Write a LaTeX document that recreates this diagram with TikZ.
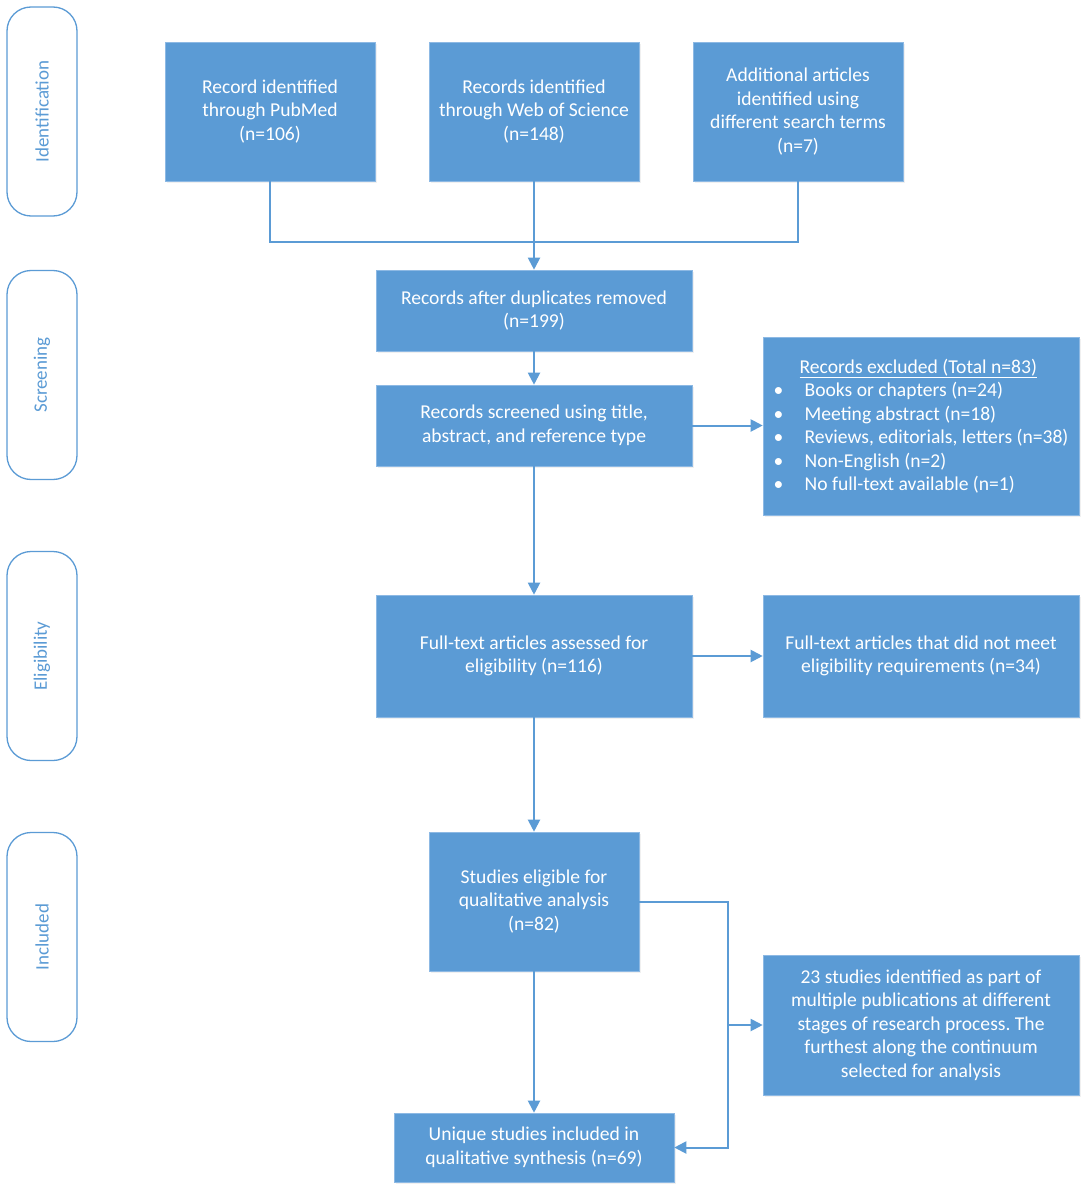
\documentclass[tikz,border=0pt]{standalone}
\usepackage{fontspec}
\setmainfont{Carlito}
\usepackage{tikz}
\usetikzlibrary{arrows.meta, positioning, calc, shadows}
\definecolor{boxblue}{HTML}{5B9BD5}
\definecolor{edgeblue}{HTML}{8DB9E4}
\frenchspacing

\tikzset{
    stagebox/.style={draw=boxblue, line width=1.3pt, fill=white, rounded corners=24pt,
        minimum width=70pt, minimum height=209pt},
    stagetext/.style={text=boxblue, font=\fontsize{19}{22}\selectfont, rotate=90},
    flowbox/.style={draw=edgeblue, line width=0.6pt, fill=boxblue, text=white,
        align=center, inner sep=0pt, font=\fontsize{19.6}{23.5}\selectfont,
        drop shadow={shadow xshift=1.5pt, shadow yshift=-2pt, opacity=0.12}},
    flowline/.style={draw=boxblue, line width=2pt},
    flowarrow/.style={flowline, -{Triangle[length=12pt, width=12pt]}}
}

\begin{document}
\begin{tikzpicture}[x=1pt, y=-1pt]
    \useasboundingbox (0, 0) rectangle (1091, 1198);
    % Stages
    \node[stagebox] (idbox) at (42, 111.5) {};
    \node[stagetext] (idlabel) at (idbox) {Identification};
    \node[stagebox] (scbox) at (42, 375) {};
    \node[stagetext] (sclabel) at (scbox) {Screening};
    \node[stagebox] (elbox) at (42, 656) {};
    \node[stagetext] (ellabel) at (elbox) {Eligibility};
    \node[stagebox] (inbox) at (42, 937) {};
    \node[stagetext] (inlabel) at (inbox) {Included};
    % Identification
    \node[flowbox, minimum width=210pt, minimum height=139pt] (pubmed) at (270, 111.5)
        {Record identified\\through PubMed\\(n=106)};
    \node[flowbox, minimum width=210pt, minimum height=139pt] (wos) at (534, 111.5)
        {Records identified\\through Web of Science\\(n=148)};
    \node[flowbox, minimum width=210pt, minimum height=139pt] (addl) at (798, 111.5)
        {Additional articles\\identified using\\different search terms\\(n=7)};
    % Screening
    \node[flowbox, minimum width=316pt, minimum height=81pt] (dupl) at (534, 310.5)
        {Records after duplicates removed\\(n=199)};
    \node[flowbox, minimum width=316pt, minimum height=81pt] (screen) at (534, 425.5)
        {Records screened using title,\\abstract, and reference type};
    \node[flowbox, minimum width=316pt, minimum height=178pt, align=left] (excl) at (921, 426)
        {\hspace*{26pt}\underline{Records excluded (Total n=83)}\\
         \makebox[31pt][l]{\textbullet}Books or chapters (n=24)\\
         \makebox[31pt][l]{\textbullet}Meeting abstract (n=18)\\
         \makebox[31pt][l]{\textbullet}Reviews, editorials, letters (n=38)\\
         \makebox[31pt][l]{\textbullet}Non-English (n=2)\\
         \makebox[31pt][l]{\textbullet}No full-text available (n=1)};
    % Eligibility
    \node[flowbox, minimum width=316pt, minimum height=122pt] (fulltext) at (534, 656)
        {Full-text articles assessed for\\eligibility (n=116)};
    \node[flowbox, minimum width=316pt, minimum height=122pt] (notmeet) at (921, 656)
        {Full-text articles that did not meet\\eligibility requirements (n=34)};
    % Included
    \node[flowbox, minimum width=210pt, minimum height=139pt] (eligible) at (534, 901.5)
        {Studies eligible for\\qualitative analysis\\(n=82)};
    \node[flowbox, minimum width=316pt, minimum height=140pt] (multi) at (921, 1025)
        {23 studies identified as part of\\multiple publications at different\\stages of research process. The\\furthest along the continuum\\selected for analysis};
    \node[flowbox, minimum width=280pt, minimum height=69pt] (unique) at (534, 1147.5)
        {Unique studies included in\\qualitative synthesis (n=69)};
    % Connectors
    \coordinate (merge) at (534, 242);
    \draw[flowline] (pubmed.south) |- (merge) -| (addl.south);
    \draw[flowarrow] (wos.south) -- (dupl.north);
    \draw[flowarrow] (dupl) -- (screen);
    \draw[flowarrow] (screen) -- (screen -| excl.west);
    \draw[flowarrow] (screen) -- (fulltext);
    \draw[flowarrow] (fulltext) -- (notmeet);
    \draw[flowarrow] (fulltext) -- (eligible);
    \draw[flowarrow] (eligible) -- (unique);
    \coordinate (split) at (728, 902);
    \draw[flowarrow] (eligible.east |- split) -- (split) |- (unique.east);
    \draw[flowarrow] (split |- multi) -- (multi.west);
\end{tikzpicture}
\end{document}
